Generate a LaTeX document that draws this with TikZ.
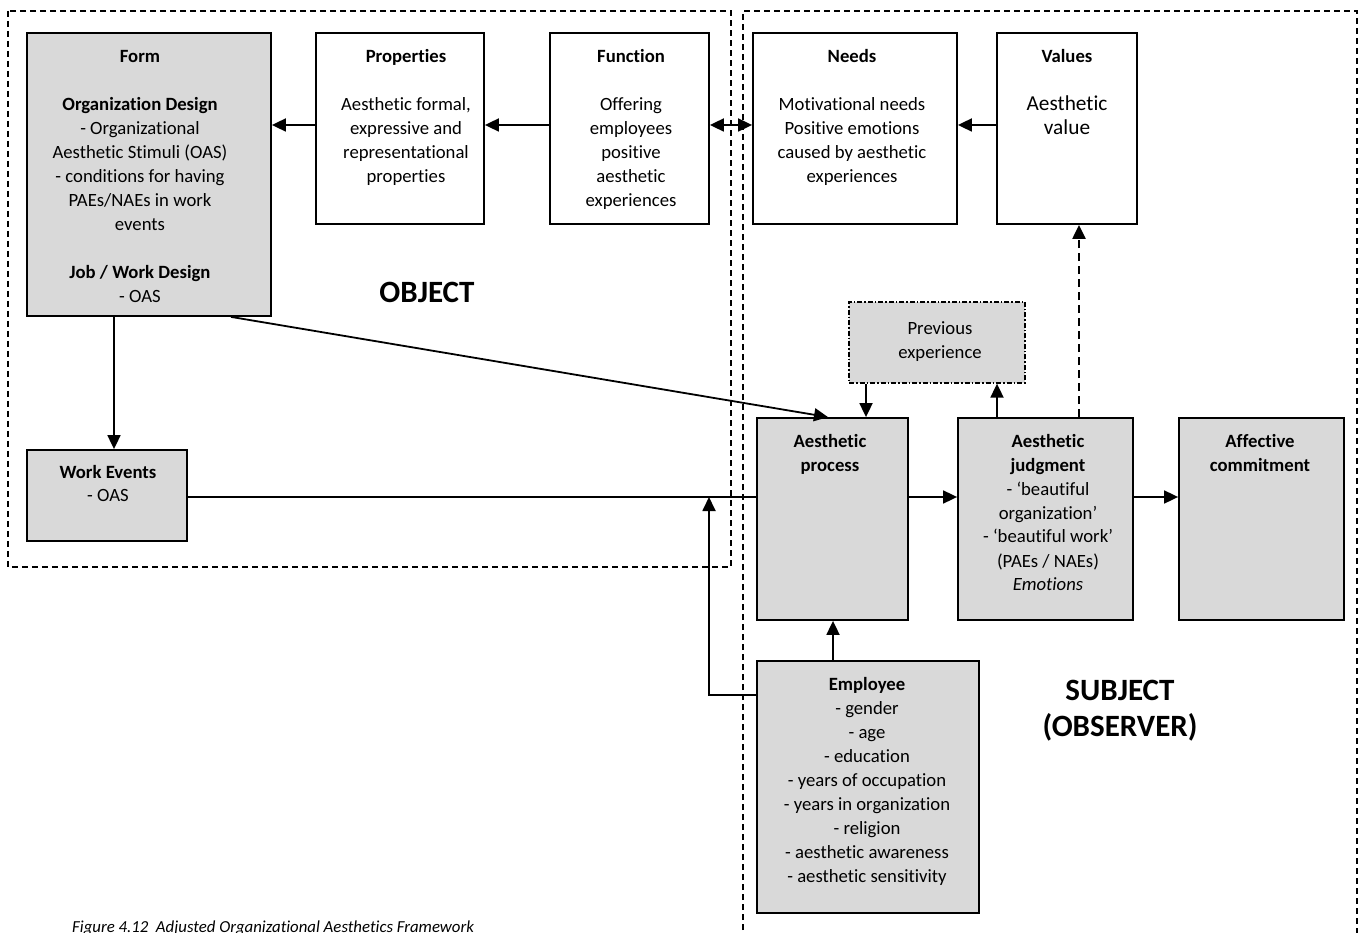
\documentclass[tikz,border=0pt]{standalone}
\usepackage{fontspec}
\setmainfont{Carlito}[Ligatures=NoCommon]
\usetikzlibrary{arrows.meta,fit}
\definecolor{boxgray}{HTML}{D9D9D9}
% centred multi-line text whose baseline is that of its first line
\newcommand\ltab[1]{\begin{tabular}[t]{@{}c@{}}#1\end{tabular}}
\begin{document}
\begin{tikzpicture}[x=1pt,y=-1pt,
  box/.style={draw, line width=1.8pt, inner sep=0pt},
  grey/.style={box, fill=boxgray},
  txt/.style={anchor=base, inner sep=0pt, font=\fontsize{18.7}{24}\selectfont},
  bigtxt/.style={anchor=base, inner sep=0pt, font=\fontsize{31}{36}\selectfont\bfseries},
  arr/.style={line width=1.8pt, -{Triangle[length=14pt,width=13pt]}},
  region/.style={line width=1.3pt, dash pattern=on 6pt off 4pt}]
\useasboundingbox (0,0) rectangle (1361,933);
\clip (0,0) rectangle (1361,933);

% object and subject regions
\draw[region] (8,11) rectangle (731,567);
\draw[region] (743,950) -- (743,11) -- (1357,11) -- (1357,950);

% boxes
\node[grey, fit={(27,33)(271,316)}] (form) {};
\node[box,  fit={(316,33)(484,224)}] (prop) {};
\node[box,  fit={(550,33)(709,224)}] (func) {};
\node[box,  fit={(753,33)(957,224)}] (needs) {};
\node[box,  fit={(997,33)(1137,224)}] (vals) {};
\node[grey, fit={(849,302)(1025,383)}, line width=1.3pt,
      dash pattern=on 5pt off 2pt on 1.5pt off 2pt] (prev) {};
\node[grey, fit={(757,418)(908,620)}] (proc) {};
\node[grey, fit={(958,418)(1133,620)}] (judg) {};
\node[grey, fit={(1179,418)(1344,620)}] (comm) {};
\node[grey, fit={(27,450)(187,541)}] (work) {};
\node[grey, fit={(757,661)(979,913)}] (emp) {};

% box texts
\node[txt] (formtxt) at (140,63) {\ltab{\textbf{Form}\\ \\ \textbf{Organization Design}\\- Organizational\\Aesthetic Stimuli (OAS)\\- conditions for having\\PAEs/NAEs in work\\events\\ \\ \textbf{Job / Work Design}\\- OAS}};
\node[txt] (proptxt) at (406,63) {\ltab{\textbf{Properties}\\ \\Aesthetic formal,\\expressive and\\representational\\properties}};
\node[txt] (functxt) at (631,63) {\ltab{\textbf{Function}\\ \\Offering\\employees\\positive\\aesthetic\\experiences}};
\node[txt] (needstxt) at (852,63) {\ltab{\textbf{Needs}\\ \\Motivational needs\\Positive emotions\\caused by aesthetic\\experiences}};
\node[txt] (valstitle) at (1067,63) {\textbf{Values}};
\node[txt, font=\fontsize{21.3}{24}\selectfont] (valstxt) at (1067,111) {\ltab{Aesthetic\\value}};
\node[txt] (prevtxt) at (940,335) {\ltab{Previous\\experience}};
\node[txt] (proctxt) at (830,447) {\ltab{\textbf{Aesthetic}\\\textbf{process}}};
\node[txt] (judgtxt) at (1048,447) {\ltab{\textbf{Aesthetic}\\\textbf{judgment}\\- ‘beautiful\\organization’\\- ‘beautiful work’\\(PAEs / NAEs)\\\textit{Emotions}}};
\node[txt] (commtxt) at (1260,447) {\ltab{\textbf{Affective}\\\textbf{commitment}}};
\node[txt] (worktxt) at (108,478) {\ltab{\textbf{Work Events}\\- OAS}};
\node[txt] (emptxt) at (867,690) {\ltab{\textbf{Employee}\\- gender\\- age\\- education\\- years of occupation\\- years in organization\\- religion\\- aesthetic awareness\\- aesthetic sensitivity}};

% region titles
\node[bigtxt] (objtitle) at (427,303) {OBJECT};
\node[bigtxt] (subjtitle) at (1120,700) {\begin{tabular}[t]{@{}c@{}}SUBJECT\\(OBSERVER)\end{tabular}};

% caption
\node[anchor=base west, inner sep=0pt, font=\fontsize{16.8}{24}\selectfont\itshape] (caption) at (72,932)
  {Figure 4.12\ \ Adjusted Organizational Aesthetics Framework};

% reference rows and columns for connectors
\coordinate (ytop) at (0,125);
\coordinate (ymid) at (0,497);
\coordinate (yemp) at (0,695);
\coordinate (xwork) at (114,0);
\coordinate (xform) at (231,0);
\coordinate (xproc) at (828,0);
\coordinate (xemp) at (833,0);
\coordinate (xprevdn) at (866,0);
\coordinate (xprevup) at (997,0);
\coordinate (xvals) at (1079,0);
\coordinate (jn) at (709,497);

% connectors
\draw[arr] (prop.west |- ytop) -- (form.east |- ytop);
\draw[arr] (func.west |- ytop) -- (prop.east |- ytop);
\draw[line width=1.8pt, {Triangle[length=14pt,width=13pt]}-{Triangle[length=14pt,width=13pt]}]
  (func.east |- ytop) -- (needs.west |- ytop);
\draw[arr] (vals.west |- ytop) -- (needs.east |- ytop);
\draw[arr] (form.south -| xwork) -- (work.north -| xwork);
\draw[arr] (form.south -| xform) -- (proc.north -| xproc);
\draw[line width=1.8pt] (work.east |- ymid) -- (proc.west |- ymid);
\draw[arr] (emp.west |- yemp) -| (jn);
\draw[arr] (emp.north -| xemp) -- (proc.south -| xemp);
\draw[arr] (proc.east |- ymid) -- (judg.west |- ymid);
\draw[arr] (judg.east |- ymid) -- (comm.west |- ymid);
\draw[arr] (prev.south -| xprevdn) -- (proc.north -| xprevdn);
\draw[arr] (judg.north -| xprevup) -- (prev.south -| xprevup);
\draw[arr, dash pattern=on 8pt off 5pt, line width=2.2pt] (judg.north -| xvals) -- (vals.south -| xvals);
\end{tikzpicture}
\end{document}
